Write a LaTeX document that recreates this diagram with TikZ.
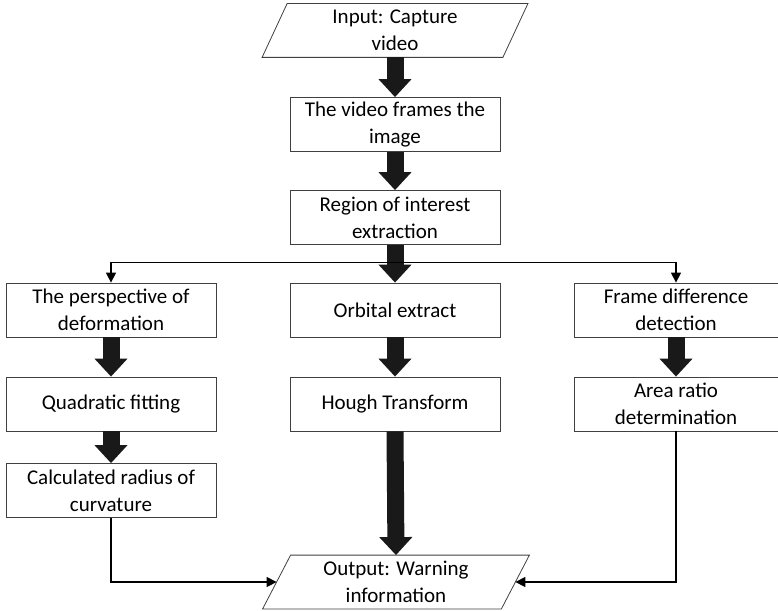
\documentclass[tikz,border=0pt]{standalone}
\usepackage{fontspec}
\setmainfont{Carlito}
\usetikzlibrary{arrows.meta,calc}
\tikzstyle{box}=[draw=black!75, line width=0.8pt, minimum width=210pt, minimum height=54pt, inner sep=0pt, align=center, font=\fontsize{21}{27}\selectfont]
\tikzstyle{iotext}=[box, draw=none, minimum width=240pt, minimum height=53pt]
\tikzstyle{bigarrow}=[line width=17pt, black!90, -{Triangle[width=32pt,length=18pt]}]
\tikzstyle{flow}=[line width=1.4pt, -{Triangle[width=10pt,length=10pt]}]
\newcommand{\drawio}[2]{
% parallelogram round a text node, #2 = half of the slant
\draw[black!75, line width=0.8pt] ([xshift=-#2pt]#1.south west) -- ([xshift=-#2pt]#1.south east)
    -- ([xshift=#2pt]#1.north east) -- ([xshift=#2pt]#1.north west) -- cycle;
}

\begin{document}
\begin{tikzpicture}[x=1pt,y=-1pt]
	\useasboundingbox (0,0) rectangle (778,610);
	% middle column
	\node[iotext] (in) at (395,30.5) {Input: Capture\\video};
	\drawio{in}{12.5}
	\node[box] (frames) at (395,124.5) {The video frames the\\image};
	\node[box] (roi) at (395,217.5) {Region of interest\\extraction};
	\node[box] (orbit) at (395,310) {Orbital extract};
	\node[box] (hough) at (395,404) {Hough Transform};
	\node[iotext, minimum width=238pt] (out) at (396,582) {Output: Warning\\information};
	\drawio{out}{14}
	% left column
	\node[box] (pers) at (111,310) {The perspective of\\deformation};
	\node[box] (quad) at (111,404) {Quadratic fitting};
	\node[box] (curv) at (111,490.5) {Calculated radius of\\curvature};
	% right column
	\node[box, minimum width=204pt] (frame) at (676,310) {Frame difference\\detection};
	\node[box, minimum width=204pt] (area) at (676,404) {Area ratio\\determination};

	\draw[bigarrow] (in.south) -- (frames.north);
	\draw[bigarrow] (frames.south) -- (roi.north);
	\draw[bigarrow] (roi.south) -- (orbit.north);
	\draw[bigarrow] (orbit.south) -- (hough.north);
	\draw[bigarrow] (hough.south) -- (out.north);
	\draw[bigarrow] (pers.south) -- (quad.north);
	\draw[bigarrow] (quad.south) -- (curv.north);
	\draw[bigarrow] (frame.south) -- (area.north);

	\draw[flow, {Triangle[width=10pt,length=10pt]}-{Triangle[width=10pt,length=10pt]}] (pers.north) -- ++(0,-20) -| (frame.north);
	\draw[flow] (curv.south) |- (out.west);
	\draw[flow] (area.south) |- (out.east);
\end{tikzpicture}
\end{document}
